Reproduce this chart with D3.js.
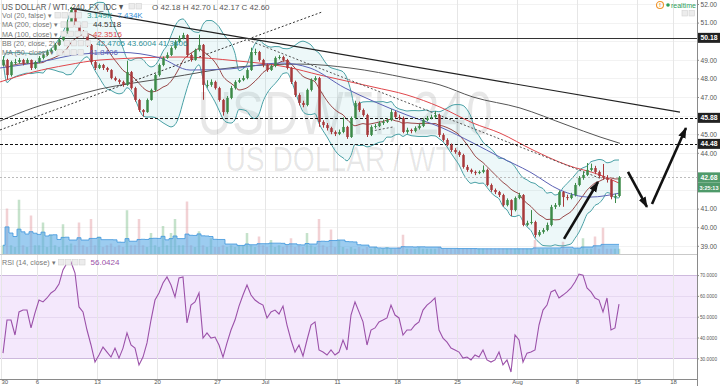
<!DOCTYPE html>
<html>
<head>
<meta charset="utf-8">
<script src="https://cdn.jsdelivr.net/npm/d3@7"></script>
<style>
html, body { margin: 0; padding: 0; background: #fff; overflow: hidden; }
svg { display: block; font-family: "Liberation Sans", Arial, sans-serif; }
</style>
</head>
<body>
<div id="chart"></div>
<script>
// ---- data (4h candles, 3 per trading day here) ----
var firstOpen = 48.70;
var closes = [
  48.99,48.18,48.88, 48.88,48.99,48.83, 48.99,48.56,48.88,
  49.10,49.26,49.42, 49.53,49.80,50.06, 50.44,51.03,51.68,
  50.87,50.49,50.33, 49.80,48.88,48.56, 48.72,48.56,48.45,
  48.02,47.91,47.81, 47.65,48.34,47.48, 46.84,46.30,46.19,
  46.84,47.38,48.18, 48.72,49.10,49.26, 49.63,49.96,50.17,
  50.33,49.26,48.99, 49.53,49.80,47.65, 47.65,47.81,47.48,
  46.84,46.19,46.95, 47.48,47.81,47.91, 48.02,48.45,49.42,
  49.42,48.99,48.72, 48.45,48.67,49.10, 49.15,48.99,48.56,
  47.81,47.11,46.68, 46.57,47.38,47.91, 48.02,45.66,45.49,
  45.33,45.12,45.01, 45.12,45.39,44.85, 45.87,46.68,46.30,
  46.03,44.96,45.39, 45.44,45.60,45.66, 45.76,46.19,45.92,
  45.87,45.12,45.23, 45.17,45.33,45.44, 45.76,45.87,45.92,
  46.03,44.96,44.69, 44.42,44.15,44.04, 43.88,43.24,43.08,
  42.97,42.91,42.97, 43.08,42.27,42.00, 41.89,41.73,41.19,
  41.46,40.92,41.57, 41.73,40.12,40.23, 40.28,39.58,39.74,
  39.85,40.12,41.09, 41.19,41.89,41.62, 41.57,41.73,42.27,
  42.65,42.81,43.08, 43.18,42.97,42.75, 42.65,42.54,41.62,
  41.68,42.68
];
var highs = [
  49.20,49.05,48.95, 49.05,49.10,49.05, 49.08,49.02,48.95,
  49.20,49.35,49.55, 49.62,49.90,50.15, 50.55,51.15,51.85,
  51.75,50.95,50.60, 50.40,49.85,48.95, 48.80,48.78,48.62,
  48.50,48.10,47.98, 47.88,48.95,48.40, 47.55,46.90,46.35,
  46.92,47.45,48.25, 48.80,49.18,49.40, 49.72,50.05,50.30,
  50.45,50.38,49.35, 49.60,50.35,49.85, 47.90,47.95,47.88,
  47.55,46.90,47.05, 47.60,47.90,48.02, 48.15,48.55,49.65,
  49.60,49.48,49.05, 48.80,48.75,49.18, 49.25,49.22,49.05,
  48.62,47.88,47.20, 46.80,47.45,48.00, 48.12,48.08,45.75,
  45.60,45.40,45.20, 45.25,45.90,45.45, 45.95,46.80,46.75,
  46.38,46.10,45.48, 45.55,45.70,45.78, 45.85,46.35,46.25,
  46.05,45.95,45.35, 45.30,45.42,45.55, 45.85,45.98,46.05,
  46.25,46.10,45.05, 44.78,44.50,44.25, 44.12,43.95,43.35,
  43.15,43.05,43.05, 43.32,43.15,42.35, 42.08,41.95,41.80,
  41.55,41.50,41.65, 41.85,41.78,40.35, 40.92,40.35,39.85,
  39.95,40.25,41.20, 41.30,41.98,41.95, 41.75,41.85,42.38,
  42.75,43.00,43.45, 43.42,43.30,43.05, 43.40,42.80,42.60,
  41.80,42.75
];
var lows = [
  48.65,47.95,48.10, 48.75,48.80,48.70, 48.78,48.45,48.50,
  48.82,49.02,49.20, 49.35,49.48,49.75, 50.00,50.40,50.98,
  50.80,50.35,50.20, 49.70,48.75,48.45, 48.50,48.45,48.35,
  47.95,47.85,47.70, 47.55,47.60,47.40, 46.75,46.20,45.95,
  46.15,46.80,47.30, 48.10,48.65,49.05, 49.20,49.55,49.90,
  50.10,49.15,48.90, 48.95,49.45,46.85, 47.50,47.55,47.40,
  46.75,46.00,46.10, 46.88,47.40,47.75, 47.85,47.95,48.40,
  49.25,48.90,48.60, 48.35,48.40,48.60, 49.02,48.90,48.48,
  47.70,47.00,46.55, 46.45,46.50,47.30, 47.85,45.40,45.35,
  45.20,45.00,44.90, 44.95,45.05,44.75, 44.80,45.80,46.20,
  45.95,44.85,44.90, 45.30,45.38,45.50, 45.60,45.70,45.85,
  45.75,45.05,45.02, 45.05,45.10,45.25, 45.38,45.70,45.80,
  45.85,44.85,44.60, 44.35,44.05,43.95, 43.78,43.15,42.98,
  42.88,42.80,42.85, 42.90,42.20,41.90, 41.78,41.62,41.10,
  41.12,40.60,40.85, 41.50,40.05,40.05, 40.15,39.45,39.50,
  39.65,39.78,40.05, 40.98,41.10,41.10, 41.45,41.50,41.65,
  42.20,42.55,42.75, 43.00,42.85,42.65, 42.55,42.40,41.50,
  41.30,41.60
];
// volume in thousands
var volumes = [
  5,26,5, 4,31,5, 4,22,5,
  5,18,4, 11,5,4, 17,5,6,
  5,18,5, 4,20,5, 10,4,5,
  6,4,5, 4,25,5, 5,20,5,
  4,12,5, 4,16,5, 12,20,5,
  5,30,5, 4,13,5, 4,9,4,
  4,5,4, 5,4,5, 5,12,5,
  4,10,5, 4,8,4, 5,4,5,
  9,4,5, 4,12,5, 4,20,5,
  4,14,4, 8,4,3, 4,3,4,
  3,4,3, 4,3,3, 4,3,3,
  4,11,3, 3,3,4, 3,3,3,
  3,4,3, 3,3,3, 3,3,3,
  3,3,3, 3,3,3, 3,3,3,
  3,3,3, 3,3,3, 3,8,3,
  3,3,3, 3,3,7, 3,3,3,
  3,9,3, 3,10,3, 15,3,3,
  3,3
];
var rsiValues = [
  32.5,48.4,48.4, 41.2,52.3,53.2, 53.2,44.6,51.8,
  58.0,57.1,59.0, 61.4,62.8,65.7, 72.5,75.8,76.3,
  71.0,54.7,52.3, 43.6,36.4,28.2, 31.6,35.4,33.0,
  30.6,34.9,30.1, 34.9,42.2,36.4, 34.9,26.8,30.6,
  37.4,48.4,58.0, 61.4,66.2,69.1, 65.2,59.5,68.6,
  69.1,47.0,55.6, 57.1,61.4,39.7, 42.2,39.7,40.2,
  36.4,30.6,37.4, 43.6,48.4,55.1, 60.4,65.2,60.4,
  58.0,56.6,55.6, 49.4,52.3,53.2, 51.3,55.1,46.0,
  38.8,33.0,36.4, 31.1,38.8,46.0, 47.5,34.0,33.0,
  31.6,34.0,31.6, 33.0,38.8,34.0, 50.8,57.1,52.3,
  47.5,36.4,43.6, 44.6,47.5,48.4, 49.4,55.6,50.8,
  49.4,41.2,43.6, 43.6,46.0,47.5, 53.2,55.6,57.1,
  59.0,43.6,39.7, 37.8,34.9,34.0, 33.0,30.1,30.6,
  29.2,31.6,30.6, 34.0,29.2,28.2, 29.2,33.0,26.8,
  29.2,23.4,41.2, 38.8,28.2,32.5, 33.0,34.0,46.0,
  53.2,55.6,61.9, 62.8,59.0,60.4, 61.9,63.8,66.7,
  70.5,70.0,63.8, 61.9,59.0,58.0, 52.3,59.0,43.6,
  44.6,56.04
];

// moving averages (day index, price)
var ma200Days = [-3.08, -0.33, 2.5, 5.25, 8, 10.83, 16.67, 21.92, 26.08, 30.83, 33.58, 36.33, 40.25, 44.17, 46.92, 48.58];
var ma200Vals = [45.71, 46.41, 46.95, 47.43, 47.75, 48.02, 48.61, 48.77, 48.56, 48.02, 47.65, 47.00, 46.41, 45.49, 44.85, 44.51];
var ma100Days = [-3.08, -0.33, 2.5, 5.25, 11.92, 16.67, 20.83, 23.58, 28, 30.83, 33.58, 36.33, 38.58, 41.33, 44.17, 46.92, 48.58];
var ma100Vals = [47.81, 48.34, 48.72, 48.99, 49.15, 48.94, 48.61, 48.18, 47.54, 47.11, 46.46, 45.60, 45.06, 44.15, 43.34, 42.81, 42.35];
var ma50Days = [-3.08, 0.25, 3.58, 6.92, 10.25, 12.75, 16.08, 20.25, 22.75, 25.67, 28, 30.83, 33.58, 36.33, 38.58, 41.08, 43.58, 46.08, 48.58];
var ma50Vals = [48.56, 48.88, 49.30, 49.40, 49.10, 48.45, 48.51, 48.83, 48.56, 47.48, 46.78, 46.03, 45.39, 44.53, 43.77, 42.97, 42.00, 41.62, 41.84];

// drawings on the chart: [day, price] pairs
var trendLines = [
  {from: [2.75, 51.78], to: [53.58, 46.19], dash: null, color: "#222", w: 1.2},
  {from: [-3.08, 45.23], to: [23.75, 51.57], dash: "2,2", color: "#333", w: 1},
  {from: [17.58, 50.06], to: [47.08, 42.59], dash: "2,2", color: "#555", w: 1},
  {from: [27.5, 45.12], to: [29.67, 45.39], dash: "2,2", color: "#555", w: 1}
];
var arrows = [
  {from: [43.92, 39.37], to: [46.75, 42.43]},
  {from: [49.25, 42.97], to: [50.83, 41.09]},
  {from: [51.25, 41.25], to: [54.08, 45.33]}
];
var levels = [
  {p: 50.18, label: "50.18", dash: null, color: "#333", box: "#222"},
  {p: 45.88, label: "45.88", dash: "3,2", color: "#111", box: "#222"},
  {p: 44.48, label: "44.48", dash: "3,2", color: "#111", box: "#222"},
  {p: 42.68, label: "42.68", dash: "2,2", color: "#bbb", box: "#4f9a6a"}
];

var priceTicks = [39, 40, 41, 42, 43, 44, 45, 46, 47, 48, 49, 50, 51, 52];
var rsiTicks = [30, 40, 50, 60, 70];
var tickDays = [-3, 0, 5, 10, 15, 19, 25, 30, 35, 40, 45, 50, 53];
var tickLabels = ["30", "6", "13", "20", "27", "Jul", "11", "18", "25", "Aug", "8", "15", "18"];

// ---- scales ----
var plotRight = 697;
var x = d3.scaleLinear().domain([0, 55]).range([37, plotRight]);
var y = d3.scaleLinear().domain([38.56, 52.215]).range([254, 0]);
var yVol = d3.scaleLinear().domain([0, 40]).range([254, 184]);
var yRsi = d3.scaleLinear().domain([20.05, 79.66]).range([379, 255]);

var bbLen = 10;
var candles = closes.map(function(c, i) {
  return {t: -3 + (i + 0.5) / 3, o: i ? closes[i - 1] : firstOpen, h: highs[i], l: lows[i], c: c, v: volumes[i], rsi: rsiValues[i]};
});
candles.forEach(function(d, i) {
  var win = closes.slice(Math.max(0, i - bbLen + 1), i + 1);
  var m = d3.mean(win);
  var sd = Math.sqrt(d3.mean(win, function(v) { return (v - m) * (v - m); }));
  d.basis = m; d.upper = m + 2 * sd; d.lower = m - 2 * sd;
  d.vma = d3.mean(volumes.slice(Math.max(0, i - bbLen + 1), i + 1));
});

var svg = d3.select("#chart").append("svg").attr("width", 720).attr("height", 386);
var defs = svg.append("defs");
defs.append("clipPath").attr("id", "clipPrice").append("rect")
  .attr("x", 0).attr("y", 0).attr("width", plotRight).attr("height", 254);
defs.append("clipPath").attr("id", "clipRsi").append("rect")
  .attr("x", 0).attr("y", 255).attr("width", plotRight).attr("height", 124);
defs.append("marker").attr("id", "arrowHead").attr("viewBox", "0 0 10 10")
  .attr("refX", 9).attr("refY", 5).attr("markerWidth", 11).attr("markerHeight", 11)
  .attr("markerUnits", "userSpaceOnUse").attr("orient", "auto")
  .append("path").attr("d", "M0,1.5 L10,5 L0,8.5 z").attr("fill", "#111");

// ---- grid ----
var grid = svg.append("g");
grid.selectAll(".hg").data(priceTicks).enter().append("line")
  .attr("x1", 0).attr("x2", plotRight).attr("y1", function(d) { return Math.round(y(d)) + 0.5; })
  .attr("y2", function(d) { return Math.round(y(d)) + 0.5; }).attr("stroke", "#f2f2f2");

// RSI band
grid.append("rect").attr("x", 0).attr("width", plotRight)
  .attr("y", yRsi(70)).attr("height", yRsi(30) - yRsi(70)).attr("fill", "#f4e8fc");
grid.selectAll(".rg").data(rsiTicks).enter().append("line")
  .attr("x1", 0).attr("x2", plotRight)
  .attr("y1", function(d) { return Math.round(yRsi(d)) + 0.5; })
  .attr("y2", function(d) { return Math.round(yRsi(d)) + 0.5; })
  .attr("stroke", function(d) { return (d == 70 || d == 30) ? "#cdb9dd" : "#e6d8f1"; });

grid.selectAll(".vg").data(tickDays).enter().append("line")
  .attr("x1", function(d) { return Math.round(x(d)) + 0.5; }).attr("x2", function(d) { return Math.round(x(d)) + 0.5; })
  .attr("y1", 0).attr("y2", 379).attr("stroke", "#e6e6e6");

// pane separator
svg.append("line").attr("x1", 0).attr("x2", plotRight).attr("y1", 254.5).attr("y2", 254.5).attr("stroke", "#c9c9c9");

// ---- watermark ----
svg.append("text").attr("x", 345).attr("y", 134).attr("text-anchor", "middle")
  .attr("font-size", 62).attr("textLength", 295).attr("lengthAdjust", "spacingAndGlyphs")
  .attr("fill", "#000").attr("fill-opacity", 0.095).text("USDWTI, 240");
svg.append("text").attr("x", 343).attr("y", 171).attr("text-anchor", "middle")
  .attr("font-size", 35).attr("textLength", 235).attr("lengthAdjust", "spacingAndGlyphs")
  .attr("fill", "#000").attr("fill-opacity", 0.095).text("US DOLLAR / WTI");

// ---- price pane ----
var pane = svg.append("g").attr("clip-path", "url(#clipPrice)");

pane.selectAll(".vol").data(candles).enter().append("rect")
  .attr("x", function(d) { return x(d.t) - 1.25; }).attr("width", 2.5)
  .attr("y", function(d) { return yVol(d.v); })
  .attr("height", function(d) { return 254 - yVol(d.v); })
  .attr("fill", function(d) { return d.c >= d.o ? "#7fbf8c" : "#e39aa0"; })
  .attr("fill-opacity", 0.45);

pane.append("path").datum(candles)
  .attr("d", d3.area().curve(d3.curveStep).x(function(d) { return x(d.t); })
    .y0(254).y1(function(d) { return yVol(d.vma); }))
  .attr("fill", "#5aaae6").attr("fill-opacity", 0.6);
pane.append("path").datum(candles)
  .attr("d", d3.line().curve(d3.curveStep).x(function(d) { return x(d.t); }).y(function(d) { return yVol(d.vma); }))
  .attr("fill", "none").attr("stroke", "#3d95dc").attr("stroke-width", 0.8);

// Bollinger
pane.append("path").datum(candles)
  .attr("d", d3.area().curve(d3.curveMonotoneX).x(function(d) { return x(d.t); })
    .y0(function(d) { return y(d.lower); }).y1(function(d) { return y(d.upper); }))
  .attr("fill", "#6cc3cf").attr("fill-opacity", 0.12);
["upper", "lower"].forEach(function(k) {
  pane.append("path").datum(candles)
    .attr("d", d3.line().curve(d3.curveMonotoneX).x(function(d) { return x(d.t); }).y(function(d) { return y(d[k]); }))
    .attr("fill", "none").attr("stroke", "#4aa1a6").attr("stroke-width", 1);
});
pane.append("path").datum(candles)
  .attr("d", d3.line().curve(d3.curveMonotoneX).x(function(d) { return x(d.t); }).y(function(d) { return y(d.basis); }))
  .attr("fill", "none").attr("stroke", "#8e3434").attr("stroke-width", 0.9);

// moving averages
function maLine(days, vals, color) {
  pane.append("path").datum(d3.zip(days, vals))
    .attr("d", d3.line().curve(d3.curveMonotoneX).x(function(d) { return x(d[0]); }).y(function(d) { return y(d[1]); }))
    .attr("fill", "none").attr("stroke", color).attr("stroke-width", 1);
}
maLine(ma200Days, ma200Vals, "#555");
maLine(ma100Days, ma100Vals, "#e0474c");
maLine(ma50Days, ma50Vals, "#5b61b5");

// trend lines
pane.selectAll(".trend").data(trendLines).enter().append("line")
  .attr("x1", function(d) { return x(d.from[0]); }).attr("y1", function(d) { return y(d.from[1]); })
  .attr("x2", function(d) { return x(d.to[0]); }).attr("y2", function(d) { return y(d.to[1]); })
  .attr("stroke", function(d) { return d.color; }).attr("stroke-width", function(d) { return d.w; })
  .attr("stroke-dasharray", function(d) { return d.dash; });

// horizontal levels
pane.selectAll(".lvl").data(levels).enter().append("line")
  .attr("x1", 0).attr("x2", plotRight)
  .attr("y1", function(d) { return Math.round(y(d.p)) + 0.5; }).attr("y2", function(d) { return Math.round(y(d.p)) + 0.5; })
  .attr("stroke", function(d) { return d.color; }).attr("stroke-dasharray", function(d) { return d.dash; });

// candles
var cg = pane.selectAll(".candle").data(candles).enter().append("g");
cg.append("line")
  .attr("x1", function(d) { return Math.round(x(d.t)) + 0.5; }).attr("x2", function(d) { return Math.round(x(d.t)) + 0.5; })
  .attr("y1", function(d) { return y(d.h); }).attr("y2", function(d) { return y(d.l); })
  .attr("stroke", function(d) { return d.c >= d.o ? "#3c8a48" : "#a8393b"; });
cg.append("rect")
  .attr("x", function(d) { return Math.round(x(d.t)) - 0.75; }).attr("width", 2.5)
  .attr("y", function(d) { return y(Math.max(d.o, d.c)); })
  .attr("height", function(d) { return Math.max(1, Math.abs(y(d.o) - y(d.c))); })
  .attr("fill", function(d) { return d.c >= d.o ? "#3c8a48" : "#a8393b"; });

// arrows
svg.selectAll(".arrow").data(arrows).enter().append("line")
  .attr("x1", function(d) { return x(d.from[0]); }).attr("y1", function(d) { return y(d.from[1]); })
  .attr("x2", function(d) { return x(d.to[0]); }).attr("y2", function(d) { return y(d.to[1]); })
  .attr("stroke", "#111").attr("stroke-width", 2.6).attr("marker-end", "url(#arrowHead)");

// ---- RSI pane ----
svg.append("g").attr("clip-path", "url(#clipRsi)").append("path").datum(candles)
  .attr("d", d3.line().x(function(d) { return x(d.t); }).y(function(d) { return yRsi(d.rsi); }))
  .attr("fill", "none").attr("stroke", "#9b51a9").attr("stroke-width", 1.1);

// ---- axes ----
svg.append("line").attr("x1", plotRight + 0.5).attr("x2", plotRight + 0.5).attr("y1", 0).attr("y2", 386).attr("stroke", "#8a8a8a");
svg.append("line").attr("x1", 0).attr("x2", plotRight).attr("y1", 379.5).attr("y2", 379.5).attr("stroke", "#8a8a8a");

function styleAxis(size, len) {
  return function(g) {
    g.select(".domain").remove();
    g.selectAll(".tick line").attr("stroke", "#8a8a8a");
    var t = g.selectAll(".tick text").attr("fill", "#555").attr("font-size", size)
      .attr("font-family", "'Liberation Sans', Arial, sans-serif");
    if (len) t.attr("textLength", len).attr("lengthAdjust", "spacingAndGlyphs");
  };
}
// scale labels hidden under the price boxes are left out
var boxYs = levels.map(function(l) { return y(l.p); }).concat([y(42.68) + 10]);
var shownPriceTicks = priceTicks.filter(function(p) {
  return boxYs.every(function(b) { return Math.abs(y(p) - b) > 6.5; });
});
svg.append("g").attr("transform", "translate(" + plotRight + ",0)")
  .call(d3.axisRight(y).tickValues(shownPriceTicks).tickSize(2).tickPadding(1.5).tickFormat(d3.format(".2f")))
  .call(styleAxis(7, 16.5));
svg.append("g").attr("transform", "translate(" + plotRight + ",0)")
  .call(d3.axisRight(yRsi).tickValues(rsiTicks).tickSize(2).tickPadding(1).tickFormat(d3.format(".4f")))
  .call(styleAxis(5.5, 17));
var xAxisG = svg.append("g").attr("transform", "translate(0,379)")
  .call(d3.axisBottom(x).tickValues(tickDays).tickSize(0).tickPadding(1).tickFormat(function(d, i) { return tickLabels[i]; }))
  .call(styleAxis(6));
// first label sits on the left edge
xAxisG.selectAll(".tick text").filter(function(d) { return x(d) < 5; }).attr("text-anchor", "start").attr("x", 0);

// price boxes on the scale
var boxes = levels.map(function(l) { return {p: l.p, text: l.label, fill: l.box, dy: 0}; });
boxes.push({p: 42.68, text: "3:25:13", fill: "#4f9a6a", dy: 10});
var bg = svg.selectAll(".pbox").data(boxes).enter().append("g")
  .attr("transform", function(d) { return "translate(" + (plotRight + 1) + "," + (y(d.p) + d.dy) + ")"; });
bg.append("rect").attr("x", 0).attr("y", -5).attr("width", 22).attr("height", 10).attr("fill", function(d) { return d.fill; });
bg.append("text").attr("x", 11).attr("y", 2.5).attr("text-anchor", "middle")
  .attr("font-size", function(d) { return d.text.length > 5 ? 6 : 7; }).attr("font-weight", "bold").attr("fill", "#fff")
  .attr("textLength", function(d) { return d.text.length > 5 ? 19 : 17; }).attr("lengthAdjust", "spacingAndGlyphs")
  .text(function(d) { return d.text; });

// ---- legends ----
var lg = svg.append("g");
function iconBoxes(x0, yc, n) {
  for (var k = 0; k < n; k++) {
    lg.append("rect").attr("x", x0 + k * 7).attr("y", yc - 3).attr("width", 5.5).attr("height", 5.5)
      .attr("fill", "#ececec").attr("stroke", "#d2d2d2").attr("stroke-width", 0.6);
  }
  return x0 + n * 7;
}
lg.append("text").attr("x", 2).attr("y", 10).attr("font-size", 9.5).attr("fill", "#555")
  .attr("textLength", 121).attr("lengthAdjust", "spacingAndGlyphs")
  .text("US DOLLAR / WTI, 240, FX_IDC \u25BE");
iconBoxes(129, 6.5, 2);
lg.append("text").attr("x", 152).attr("y", 10).attr("font-size", 8).attr("fill", "#555")
  .text("O 42.18  H 42.70  L 42.17  C 42.60");

var legendRows = [
  {label: "Vol (20, false)", y: 18, vals: [["3.149K", "#2b9a8f"], ["7.434K", "#3a8fd6"]]},
  {label: "MA (200, close)", y: 27.3, vals: [["44.5118", "#333"]]},
  {label: "MA (100, close)", y: 36.6, vals: [["42.3516", "#e0474c"]]},
  {label: "BB (20, close, 2)", y: 45.9, vals: [["42.4705 43.6004 41.3406", "#2e8f96"]]},
  {label: "MA (50, close)", y: 55.2, vals: [["41.8406", "#5b61b5"]]},
  {label: "RSI (14, close)", y: 265, vals: [["56.0424", "#9b51a9"]]}
];
legendRows.forEach(function(r) {
  var t = lg.append("text").attr("x", 2).attr("y", r.y).attr("font-size", 7.2).attr("fill", "#777").text(r.label + " \u25BE");
  var xx = iconBoxes(2 + t.node().getComputedTextLength() + 3, r.y - 2.5, 4) + 4;
  r.vals.forEach(function(v) {
    var vt = lg.append("text").attr("x", xx).attr("y", r.y).attr("font-size", 8).attr("fill", v[1]).text(v[0]);
    xx += vt.node().getComputedTextLength() + 5;
  });
});

// realtime badge
lg.append("circle").attr("cx", 660).attr("cy", 5).attr("r", 3.5).attr("fill", "none").attr("stroke", "#f0932b").attr("stroke-width", 1.1);
lg.append("text").attr("x", 660).attr("y", 7.3).attr("text-anchor", "middle").attr("font-size", 6).attr("font-weight", "bold").attr("fill", "#f0932b").text("!");
lg.append("circle").attr("cx", 668).attr("cy", 5).attr("r", 1.8).attr("fill", "#2e9e5a");
lg.append("text").attr("x", 671).attr("y", 7.5).attr("font-size", 7).attr("fill", "#2e9e5a").text("realtime");
iconBoxes(682, 13.5, 2);
</script>
</body>
</html>
